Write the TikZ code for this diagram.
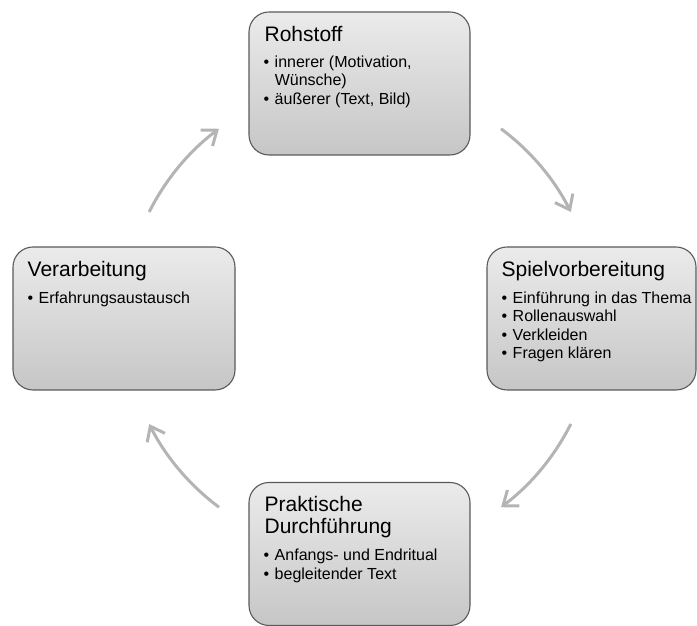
\documentclass[tikz,border=0pt]{standalone}
\usepackage{fontspec}
\setmainfont{Liberation Sans}
\usetikzlibrary{arrows.meta,positioning}

\definecolor{boxline}{HTML}{5A5A5A}
\definecolor{boxtop}{HTML}{EBEBEB}
\definecolor{boxbottom}{HTML}{C6C6C6}
\definecolor{cyclegray}{HTML}{B4B4B4}

\newcommand{\headfont}{\fontsize{21}{22}\selectfont}
\newcommand{\listfont}{\fontsize{16}{18.5}\selectfont}
\newcommand{\headlines}[1]{\begin{tabular}[t]{@{}l@{}}#1\end{tabular}}
\newcommand{\bulletlist}[1]{\begin{tabular}[t]{@{}l@{\hspace{5.5pt}}l@{}}#1\end{tabular}}

\begin{document}
\begin{tikzpicture}[
  x=1pt, y=1pt,
  stage/.style={draw=boxline, line width=1.1pt, rounded corners=20pt,
    top color=boxtop, bottom color=boxbottom,
    minimum height=143pt, inner sep=0pt},
  headline/.style={font=\headfont, inner sep=0pt, anchor=base west},
  itemlist/.style={font=\listfont, inner sep=0pt, anchor=base west},
  cyclearrow/.style={draw=cyclegray, line width=3pt,
    -{Straight Barb[length=13pt,width=20pt]}},
]

\useasboundingbox (0,0) rectangle (697,626);

% the four stages
\node[stage, minimum width=221pt] (rohstoff) at (359.5,542.5) {};
\node[stage, minimum width=209pt] (vorbereitung) at (591.5,307.5) {};
\node[stage, minimum width=221pt] (durchfuehrung) at (359.5,72) {};
\node[stage, minimum width=222pt] (verarbeitung) at (124,307.5) {};

% titles
\node[headline] (rohstoff-title) at ([shift={(16,-30)}]rohstoff.north west) {\headlines{Rohstoff}};
\node[headline] (vorbereitung-title) at ([shift={(15,-30)}]vorbereitung.north west) {\headlines{Spielvorbereitung}};
\node[headline] (durchfuehrung-title) at ([shift={(16,-30)}]durchfuehrung.north west) {\headlines{Praktische\\Durchführung}};
\node[headline] (verarbeitung-title) at ([shift={(15,-30)}]verarbeitung.north west) {\headlines{Verarbeitung}};

% bullet points
\node[itemlist] (rohstoff-items) at ([shift={(-1,-26)}]rohstoff-title.base west)
  {\bulletlist{\textbullet & innerer (Motivation,\\ & Wünsche)\\ \textbullet & äußerer (Text, Bild)}};
\node[itemlist] (vorbereitung-items) at ([shift={(0,-27)}]vorbereitung-title.base west)
  {\bulletlist{\textbullet & Einführung in das Thema\\ \textbullet & Rollenauswahl\\ \textbullet & Verkleiden\\ \textbullet & Fragen klären}};
\node[itemlist] (durchfuehrung-items) at ([shift={(-1,-49)}]durchfuehrung-title.base west)
  {\bulletlist{\textbullet & Anfangs- und Endritual\\ \textbullet & begleitender Text}};
\node[itemlist] (verarbeitung-items) at ([shift={(0,-27)}]verarbeitung-title.base west)
  {\bulletlist{\textbullet & Erfahrungsaustausch}};

% the cycle
\coordinate (hub) at (360,308);
\foreach[count=\k] \from/\to in {53.3/26.7, -26.7/-53.3, -126.7/-153.3, 153.3/126.7} {
  \coordinate (cycle-\k) at ([shift={(\from:236)}]hub);
  \draw[cyclearrow] (cycle-\k) arc[start angle=\from, end angle=\to, radius=236pt];
}
\end{tikzpicture}
\end{document}
